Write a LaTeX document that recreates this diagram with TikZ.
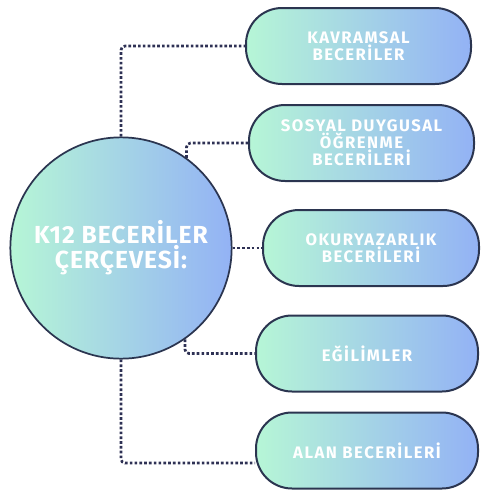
\documentclass[tikz,border=0pt]{standalone}
\usepackage{fontspec}
\setsansfont{Fira Sans}
\newfontfamily\pillfont[LetterSpace=9]{Fira Sans}
\newfontfamily\framefont[LetterSpace=4]{Fira Sans}
\usetikzlibrary{positioning}
\pgfdeclarelayer{background}
\pgfsetlayers{background,main}
\definecolor{mint}{HTML}{B6F6D6}
\definecolor{sky}{HTML}{93B2F5}
\definecolor{rim}{HTML}{2B3550}
\definecolor{dotc}{HTML}{2E3154}

\begin{document}
\begin{tikzpicture}[x=0.75pt,y=-0.75pt,
pill/.style={draw=rim,line width=1.5pt,rectangle,rounded corners=27pt,
    left color=mint,right color=sky,minimum height=57pt,
    text=white,align=center,font=\pillfont\bfseries\fontsize{12.5}{11.6}\selectfont},
link/.style={dotc,line width=2pt,dash pattern=on 2pt off 1.6pt,rounded corners=3pt}]
\useasboundingbox (0,0) rectangle (480,490);

\node (frame) [circle,draw=rim,line width=1.3pt,left color=mint,right color=sky,
    minimum size=166pt,inner sep=0pt,text=white,align=center,
    font=\framefont\bfseries\fontsize{18.5}{14.5}\selectfont] at (121,248)
    {K12 BECERİLER\\ÇERÇEVESİ:};

\node (kavram) [pill,minimum width=168.75pt] at (358.5,46) {KAVRAMSAL\\BECERİLER};
\node (sosyal) [pill,minimum width=168.75pt] at (361.5,143) {SOSYAL DUYGUSAL\\ÖĞRENME\\BECERİLERİ};
\node (okur) [pill,minimum width=162pt] at (371,248) {OKURYAZARLIK\\BECERİLERİ};
\node (egilim) [pill,minimum width=166.5pt] at (367,353.5) {EĞİLİMLER};
\node (alan) [pill,minimum width=166.5pt] at (367,450.5) {ALAN BECERİLERİ};

\coordinate (alanin) at ([yshift=-9.4pt]alan.west);

\begin{pgfonlayer}{background}
\draw [link] (frame.north) |- (kavram.west);
\draw [link] (frame.54) |- (sosyal.west);
\draw [link] (frame.east) -- (okur.west);
\draw [link] (frame.-55) |- (egilim.west);
\draw [link] (frame.south) |- (alanin);
\end{pgfonlayer}
\end{tikzpicture}
\end{document}
